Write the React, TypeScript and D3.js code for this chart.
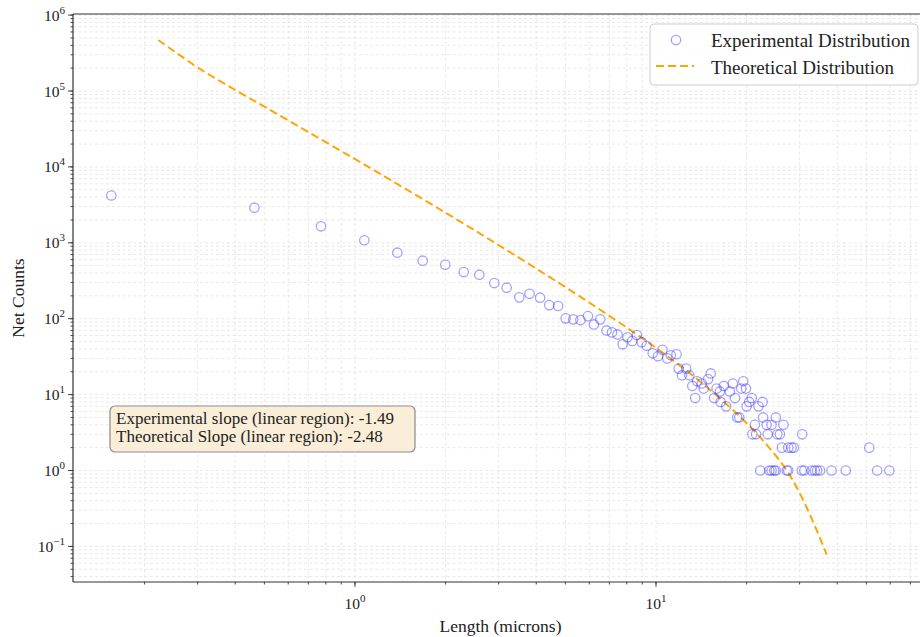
import React from "react";
import * as d3 from "d3";

// Experimental distribution (length in microns, net counts)
const expLength = [
  0.155, 0.463, 0.771, 1.074, 1.382, 1.679, 1.995, 2.297, 2.588, 2.903,
  3.19, 3.515, 3.8, 4.12, 4.42, 4.73, 5.01, 5.31, 5.61, 5.94,
  6.22, 6.53, 6.85, 7.14, 7.45, 7.75, 8.04, 8.34, 8.64, 8.96,
  9.31, 9.75, 10.15, 10.5, 10.9, 11.2, 11.7, 11.9, 12.2, 12.6,
  12.9, 13.2, 13.5, 13.7, 14.2, 14.4, 14.9, 15.2, 15.6, 15.9,
  16.3, 16.4, 16.8, 17.1, 17.6, 18.0, 18.3, 18.6, 18.9, 19.2,
  19.5, 19.9, 20.0, 20.4, 20.8, 20.9, 21.3, 21.5, 21.9, 22.2,
  22.6, 22.7, 23.3, 23.5, 23.8, 24.2, 24.2, 24.7, 25.0, 25.0,
  25.3, 25.8, 26.2, 26.5, 27.2, 27.5, 27.5, 28.2, 28.7, 30.5,
  30.6, 31.1, 32.9, 33.7, 34.3, 35.1, 38.3, 42.7, 51.1, 54.3, 59.6,
];
const expCounts = [
  4200, 2900, 1650, 1080, 741, 581, 514, 412, 380, 295,
  256, 191, 213, 189, 151, 147, 101, 98, 96, 108,
  84, 98, 70, 66, 62, 46, 57, 51, 61, 49,
  44, 35, 32, 39, 30, 33, 34, 22, 18, 22,
  18, 13, 9, 15, 14, 12, 16, 19, 9, 12,
  11, 8, 13, 7, 11, 14, 9, 5, 5, 12,
  15, 12, 7, 8, 9, 3, 4, 3, 7, 1,
  8, 5, 4, 3, 1, 4, 1, 1, 5, 1,
  3, 3, 2, 4, 1, 2, 1, 2, 2, 1,
  3, 1, 1, 1, 1, 1, 1, 1, 2, 1, 1,
];

// Theoretical distribution
const theoLength = [
  0.222, 0.305, 0.404, 0.509, 0.691, 0.987, 1.307, 2.017, 2.957, 4.335,
  6.03, 8.2, 10.7, 14.0, 19.0, 22.7, 27.2, 30.1, 33.3, 36.9,
];
const theoCounts = [
  470000, 196000, 101000, 59800, 29600, 13060, 6790, 2440, 966, 374,
  161, 71.4, 33.9, 14.9, 5.13, 2.47, 1.0, 0.492, 0.209, 0.078,
];

const xMajorExp = [-1, 0, 1, 2];
const yMajorExp = [-2, -1, 0, 1, 2, 3, 4, 5, 6];

const legendLabels = ["Experimental Distribution", "Theoretical Distribution"];
const annotationLines = [
  "Experimental slope (linear region): -1.49",
  "Theoretical Slope (linear region): -2.48",
];
const xLabel = "Length (microns)";
const yLabel = "Net Counts";

const W = 920;
const H = 637;
const M = { left: 73, top: 14, right: 928, bottom: 582 };
const FONT = "'Liberation Serif', 'Times New Roman', 'DejaVu Serif', serif";

export default function App() {
  const x = d3
    .scaleLog()
    .domain([Math.pow(10, (M.left - 355) / 301), Math.pow(10, (M.right - 355) / 301)])
    .range([M.left, M.right]);
  const y = d3
    .scaleLog()
    .domain([Math.pow(10, (470.5 - M.bottom) / 75.9), Math.pow(10, (470.5 - M.top) / 75.9)])
    .range([M.bottom, M.top]);

  const [x0, x1] = x.domain();
  const [y0, y1] = y.domain();

  const xMinor: number[] = [];
  xMajorExp.forEach((e) => {
    for (let k = 1; k <= 9; k++) {
      const v = k * Math.pow(10, e);
      if (v >= x0 && v <= x1) xMinor.push(v);
    }
  });
  const yMinor: number[] = [];
  yMajorExp.forEach((e) => {
    for (let k = 1; k <= 9; k++) {
      const v = k * Math.pow(10, e);
      if (v >= y0 && v <= y1) yMinor.push(v);
    }
  });
  const xMaj = xMajorExp.map((e) => Math.pow(10, e)).filter((v) => v >= x0 && v <= x1);
  const yMaj = yMajorExp.map((e) => Math.pow(10, e)).filter((v) => v >= y0 && v <= y1);

  const line = d3
    .line<number>()
    .x((_, i) => x(theoLength[i]))
    .y((_, i) => y(theoCounts[i]))
    .curve(d3.curveCatmullRom.alpha(0.5));

  const gridColor = "#e2e2e2";
  const markerColor = "rgba(50,50,255,0.45)";
  const orange = "#ffa500";

  const expStr = (e: number) => (e < 0 ? "\u2212" + Math.abs(e) : String(e));

  return (
    <svg
      width={W}
      height={H}
      style={{ position: "absolute", left: 0, top: 0, background: "#fff" }}
      fontFamily={FONT}
    >
      <defs>
        <clipPath id="plotClip">
          <rect x={M.left} y={M.top} width={M.right - M.left} height={M.bottom - M.top} />
        </clipPath>
      </defs>
      {/* grid */}
      <g stroke={gridColor} strokeWidth={0.8} strokeDasharray="3,2.5">
        {xMinor.map((v, i) => (
          <line key={"gx" + i} x1={x(v)} x2={x(v)} y1={M.top} y2={M.bottom} />
        ))}
        {yMinor.map((v, i) => (
          <line key={"gy" + i} x1={M.left} x2={M.right} y1={y(v)} y2={y(v)} />
        ))}
      </g>
      {/* data */}
      <g clipPath="url(#plotClip)">
        <path d={line(theoLength) || ""} fill="none" stroke={orange} strokeWidth={2} strokeDasharray="8,4" />
        {expLength.map((v, i) => (
          <circle
            key={"p" + i}
            cx={x(v)}
            cy={y(expCounts[i])}
            r={4.7}
            fill="none"
            stroke={markerColor}
            strokeWidth={1.3}
          />
        ))}
      </g>
      {/* spines */}
      <g stroke="#333" strokeWidth={1.2} fill="none">
        <line x1={M.left} x2={M.left} y1={M.top} y2={M.bottom} />
        <line x1={M.left} x2={M.right} y1={M.top} y2={M.top} />
        <line x1={M.left} x2={M.right} y1={M.bottom} y2={M.bottom} />
      </g>
      {/* ticks */}
      <g stroke="#333" strokeWidth={0.9}>
        {yMinor.map((v, i) => (
          <line key={"ymt" + i} x1={M.left - 2.5} x2={M.left} y1={y(v)} y2={y(v)} />
        ))}
        {yMaj.map((v, i) => (
          <line key={"yMt" + i} x1={M.left - 5} x2={M.left} y1={y(v)} y2={y(v)} />
        ))}
        {xMinor.map((v, i) => (
          <line key={"xmt" + i} x1={x(v)} x2={x(v)} y1={M.bottom} y2={M.bottom + 2.5} />
        ))}
        {xMaj.map((v, i) => (
          <line key={"xMt" + i} x1={x(v)} x2={x(v)} y1={M.bottom} y2={M.bottom + 5} />
        ))}
      </g>
      <g fill="#222" fontSize={15.5}>
        {yMaj.map((v, i) => {
          const e = Math.round(Math.log10(v));
          return (
            <text key={"yl" + i} x={M.left - 8} y={y(v) + 5.5} textAnchor="end">
              10
              <tspan dy={-7} fontSize={11}>
                {expStr(e)}
              </tspan>
            </text>
          );
        })}
        {xMaj.map((v, i) => {
          const e = Math.round(Math.log10(v));
          return (
            <text key={"xl" + i} x={x(v)} y={M.bottom + 27} textAnchor="middle">
              10
              <tspan dy={-7} fontSize={11}>
                {expStr(e)}
              </tspan>
            </text>
          );
        })}
      </g>
      {/* axis labels */}
      <text x={(M.left + M.right) / 2} y={632} textAnchor="middle" fontSize={17.5} fill="#222">
        {xLabel}
      </text>
      <text
        transform={`translate(24,${(M.top + M.bottom) / 2}) rotate(-90)`}
        textAnchor="middle"
        fontSize={17.5}
        fill="#222"
      >
        {yLabel}
      </text>
      {/* legend */}
      <g>
        <rect x={650} y={24} width={268} height={61} rx={4} fill="rgba(255,255,255,0.8)" stroke="#cccccc" />
        <circle cx={676} cy={40} r={4.7} fill="none" stroke={markerColor} strokeWidth={1.3} />
        <text x={711} y={46.5} fontSize={19} fill="#222">
          {legendLabels[0]}
        </text>
        <line x1={656} x2={694} y1={66} y2={66} stroke={orange} strokeWidth={2} strokeDasharray="8,4" />
        <text x={711} y={73.5} fontSize={19} fill="#222">
          {legendLabels[1]}
        </text>
      </g>
      {/* annotation */}
      <g>
        <rect x={110} y={406} width={305} height={46} rx={5} fill="#faeed9" stroke="#8c8c8c" strokeWidth={1.2} />
        {annotationLines.map((t, i) => (
          <text key={"an" + i} x={116} y={423.5 + i * 18.8} fontSize={17} fill="#222">
            {t}
          </text>
        ))}
      </g>
    </svg>
  );
}
